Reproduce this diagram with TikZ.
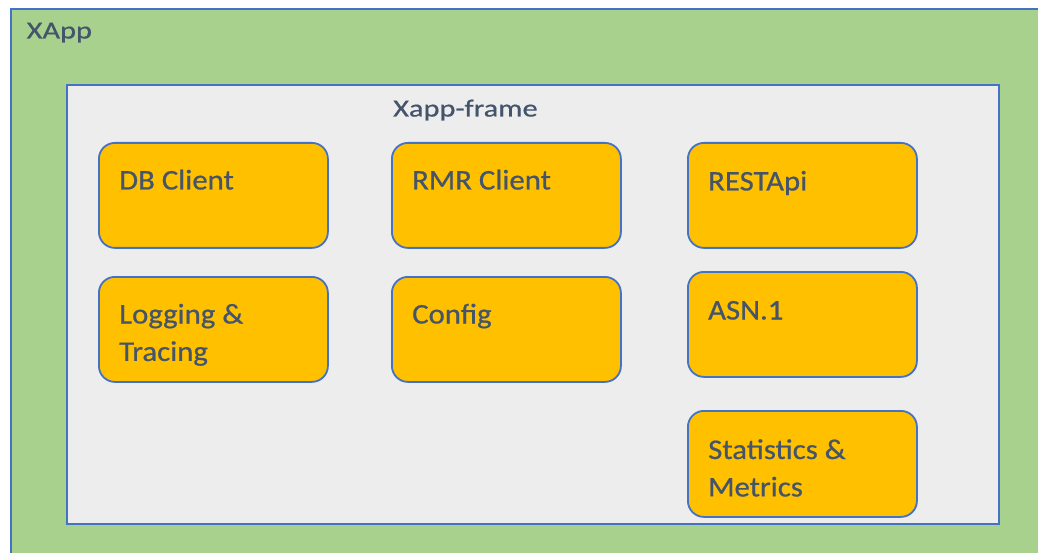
\documentclass[tikz,border=0pt]{standalone}
\usepackage{fontspec}
\setmainfont{Carlito}
\newfontfamily\titlefont[FakeStretch=1.24,FakeBold=0.6]{Carlito}
\newfontfamily\compfont[FakeStretch=1.08,FakeBold=0.6]{Carlito}
\definecolor{appgreen}{HTML}{A9D18E}
\definecolor{framegray}{HTML}{EDEDED}
\definecolor{boxorange}{HTML}{FFC000}
\definecolor{edgeblue}{HTML}{4472C4}
\definecolor{txt}{HTML}{44546A}
\tikzset{
  outerbox/.style={draw=edgeblue, fill=appgreen, line width=2pt, anchor=north west, inner sep=0pt},
  framebox/.style={draw=edgeblue, fill=framegray, line width=1.8pt, anchor=north west, inner sep=0pt},
  compbox/.style={draw=edgeblue, fill=boxorange, line width=1.8pt, rounded corners=16pt, anchor=north west, inner sep=0pt, minimum width=229pt, minimum height=105pt},
  titletxt/.style={text=txt, anchor=base west, inner sep=0pt, font=\titlefont\fontsize{24.5}{30}\selectfont},
  comptxt/.style={text=txt, anchor=base west, inner sep=0pt, font=\compfont\fontsize{28.5}{37.4}\selectfont}
}
\newcommand{\twolines}[2]{\begin{tabular}[t]{@{}l@{}}#1\\#2\end{tabular}}
\begin{document}
\begin{tikzpicture}[x=1pt,y=-1pt]
\useasboundingbox (0,0) rectangle (1038,553);
\fill[white] (0,0) rectangle (1038,553);
\node (xapp) [outerbox, minimum width=1040pt, minimum height=560pt] at (10,8) {};
\node (xapptxt) [titletxt] at (26.5,38.5) {XApp};
\node (frame) [framebox, minimum width=932pt, minimum height=439pt] at (66,84) {};
\node (frametxt) [titletxt] at (393,116.5) {Xapp-frame};
\node (db) [compbox] at (98,142) {};
\node (dbtxt) [comptxt] at (119,189.5) {DB Client};
\node (rmr) [compbox] at (391,142) {};
\node (rmrtxt) [comptxt] at (412,189.5) {RMR Client};
\node (rest) [compbox] at (687,142) {};
\node (resttxt) [comptxt] at (708,190.5) {RESTApi};
\node (log) [compbox] at (98,276) {};
\node (logtxt) [comptxt] at (119,323.5) {\twolines{Logging \&}{Tracing}};
\node (cfg) [compbox] at (391,276) {};
\node (cfgtxt) [comptxt] at (412,323.5) {Config};
\node (asn) [compbox] at (687,271) {};
\node (asntxt) [comptxt] at (708,319.5) {ASN.1};
\node (stat) [compbox, minimum height=106pt] at (687,410) {};
\node (stattxt) [comptxt] at (708,459) {\twolines{Statistics \&}{Metrics}};
\end{tikzpicture}
\end{document}
